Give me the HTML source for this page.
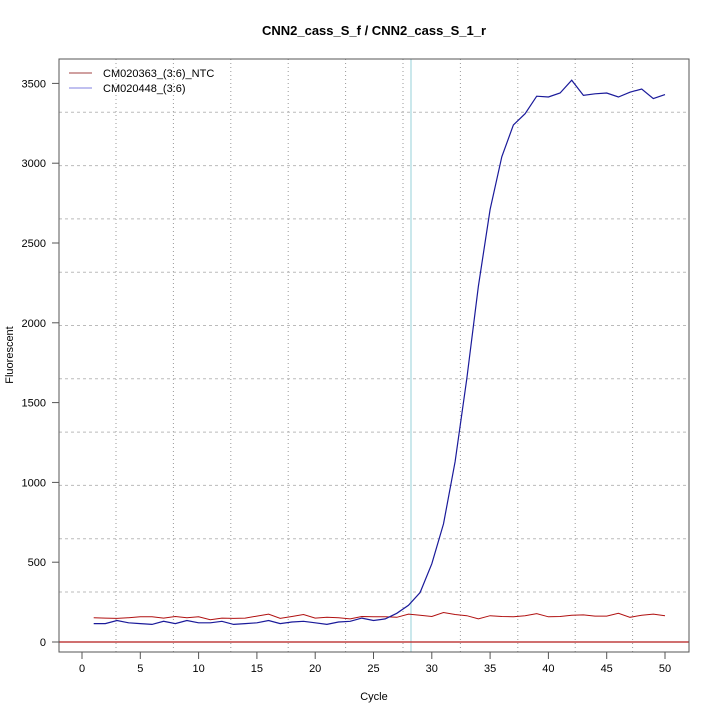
<!DOCTYPE html>
<html><head><meta charset="utf-8"><style>body{margin:0;background:#fff}svg{display:block}text{font-family:"Liberation Sans",sans-serif}</style></head><body>
<svg width="720" height="720" xmlns="http://www.w3.org/2000/svg" id="s">
<rect width="720" height="720" fill="#fff"/>
<text x="374" y="35" text-anchor="middle" font-size="13" font-weight="bold">CNN2_cass_S_f / CNN2_cass_S_1_r</text>
<g id="grid" stroke="#999" stroke-width="1" fill="none"></g>
<line x1="411" y1="59" x2="411" y2="652" stroke="#a8d8e0" stroke-width="1.2"/>
<line x1="59" y1="642" x2="689" y2="642" stroke="#c04040" stroke-width="1.5"/>
<polyline id="red" fill="none" stroke="#b01010" stroke-width="1"/>
<polyline id="blue" fill="none" stroke="#1a1a9a" stroke-width="1.2"/>
<rect x="59" y="59" width="630" height="593" fill="none" stroke="#555" stroke-width="1"/>
<g id="ax" stroke="#555" fill="none"></g>
<g id="lab" font-size="11" fill="#000"></g>
<text x="374" y="700" text-anchor="middle" font-size="11">Cycle</text>
<text transform="translate(13,355) rotate(-90)" text-anchor="middle" font-size="11">Fluorescent</text>
<line x1="69" y1="73" x2="92" y2="73" stroke="#a04040"/>
<line x1="69" y1="88" x2="92" y2="88" stroke="#8080e0"/>
<text x="103" y="77" font-size="11">CM020363_(3:6)_NTC</text>
<text x="103" y="92" font-size="11">CM020448_(3:6)</text>
</svg>
<script>
var ns="http://www.w3.org/2000/svg";
function el(p,t,a){var e=document.createElementNS(ns,t);for(var k in a)e.setAttribute(k,a[k]);document.getElementById(p).appendChild(e);return e;}
for(var k=0;k<10;k++){var x=116+57.4*k;el("grid","line",{x1:x,y1:59,x2:x,y2:652,"stroke-dasharray":"1,3"});}
for(var k=0;k<10;k++){var y=592-53.3*k;el("grid","line",{x1:59,y1:y,x2:689,y2:y,"stroke-dasharray":"3,3",stroke:"#bbb"});}
function X(c){return 82+c*11.66;}function Y(v){return 642-v*0.1596;}
for(var c=0;c<=50;c+=5){el("ax","line",{x1:X(c),y1:652,x2:X(c),y2:659});var t=el("lab","text",{x:X(c),y:672,"text-anchor":"middle"});t.textContent=c;}
for(var v=0;v<=3500;v+=500){el("ax","line",{x1:52,y1:Y(v),x2:59,y2:Y(v)});var t=el("lab","text",{x:46,y:Y(v)+4,"text-anchor":"end"});t.textContent=v;}
var b=[115,115,135,120,115,110,130,115,135,120,120,130,110,115,120,135,115,125,130,120,110,125,130,150,135,145,180,230,310,490,740,1130,1650,2230,2710,3040,3240,3310,3420,3415,3440,3520,3425,3435,3440,3415,3445,3465,3405,3430];
var r=[152,150,148,152,158,158,150,160,152,158,140,150,148,150,162,175,148,160,172,150,155,152,145,160,158,158,155,175,168,160,185,172,165,145,165,160,158,165,178,158,160,168,170,162,162,180,155,168,175,165];
function pts(a){return a.map(function(v,i){return X(i+1).toFixed(1)+","+Y(v).toFixed(1)}).join(" ");}
document.getElementById("red").setAttribute("points",pts(r));
document.getElementById("blue").setAttribute("points",pts(b));
</script>
</body></html>
